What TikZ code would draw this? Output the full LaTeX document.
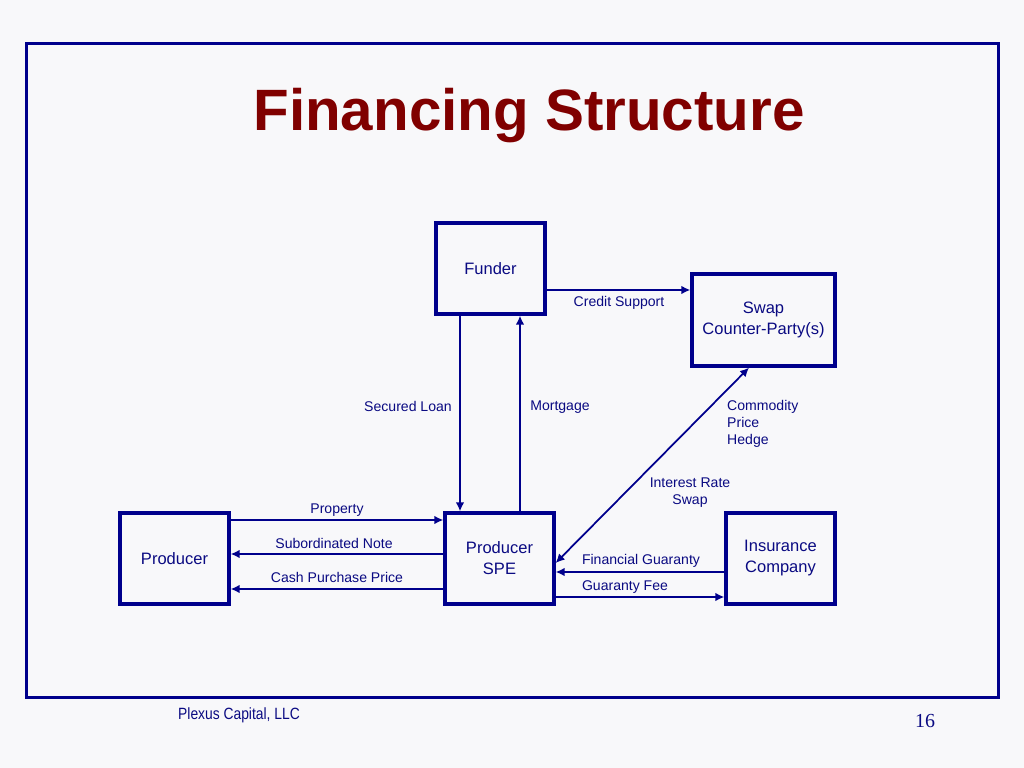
\documentclass[tikz,border=0pt]{standalone}
\usepackage{fontspec}
\setmainfont{Liberation Sans}
\newfontfamily\pagenumfont{Liberation Serif}
\newfontfamily\footfont[FakeStretch=0.85]{Liberation Sans}
\usetikzlibrary{arrows.meta}

\definecolor{linkblue}{RGB}{0,0,140}
\definecolor{textblue}{RGB}{10,10,130}
\definecolor{titlered}{RGB}{128,0,0}
\definecolor{slidebg}{RGB}{248,248,250}

\tikzset{
    party/.style={draw=linkblue, line width=2.8pt, minimum width=3.27cm, minimum height=2.73cm,
        align=center, inner sep=0pt, text=textblue, font=\fontsize{14.1}{17.9}\selectfont},
    flow/.style={draw=linkblue, line width=1.5pt, -{Latex[length=0.27cm,width=0.26cm]}},
    twoway/.style={flow, {Latex[length=0.27cm,width=0.26cm]}-{Latex[length=0.27cm,width=0.26cm]}},
    flowlabel/.style={inner sep=0pt, text=textblue, font=\fontsize{12}{14.5}\selectfont},
}

\begin{document}
\begin{tikzpicture}[x=0.03cm, y=-0.03cm]

        \useasboundingbox (0,0) rectangle (1024,768);
        \path[fill=slidebg] (0,0) rectangle (1024,768);

        \coordinate (c_funder) at (490.5,268.5);
        \coordinate (c_swap) at (763.5,320);
        \coordinate (c_prod) at (174.5,558.5);
        \coordinate (c_spe) at (499.5,558.5);
        \coordinate (c_ins) at (780.5,558.5);

        \path[draw=linkblue, line width=2.5pt] (26.5,43.5) rectangle (998.5,697.5);

        \node[anchor=base, text=titlered, font=\fontsize{49.8}{55}\selectfont\bfseries] (title) at (529,130.5) {Financing Structure};

        \node[party] (funder) at (c_funder) {Funder};
        \node[party, minimum width=4.29cm, minimum height=2.76cm] (swap) at (c_swap) {Swap\\Counter-Party(s)};
        \node[party] (prod) at (c_prod) {Producer};
        \node[party] (spe) at (c_spe) {Producer\\SPE};
        \node[party] (ins) at (c_ins) {Insurance\\Company};

        % funder and swap
        \path[flow] (funder.east |- 0,290) -- (swap.west |- 0,290);
        \path[flow] (funder.south -| 460,0) -- (spe.north -| 460,0);
        \path[flow] (spe.north -| 520,0) -- (funder.south -| 520,0);
        \path[twoway] (spe.east |- 0,563) -- (swap.south -| 749,0);

        % producer side
        \path[flow] (prod.east |- 0,520) -- (spe.west |- 0,520);
        \path[flow] (spe.west |- 0,554) -- (prod.east |- 0,554);
        \path[flow] (spe.west |- 0,589) -- (prod.east |- 0,589);

        % insurance side
        \path[flow] (ins.west |- 0,572) -- (spe.east |- 0,572);
        \path[flow] (spe.east |- 0,597) -- (ins.west |- 0,597);

        \node[flowlabel] (l_credit) at (619,303) {Credit Support};
        \node[flowlabel] (l_loan) at (408,406) {Secured Loan};
        \node[flowlabel] (l_mortgage) at (560,407) {Mortgage};
        \node[flowlabel, anchor=west, align=left] (l_hedge) at (727,424) {Commodity\\Price\\Hedge};
        \node[flowlabel, align=center] (l_swap) at (690,493) {Interest Rate\\Swap};
        \node[flowlabel] (l_property) at (337,510) {Property};
        \node[flowlabel] (l_subnote) at (334,543) {Subordinated Note};
        \node[flowlabel] (l_cash) at (337,577) {Cash Purchase Price};
        \node[flowlabel] (l_guaranty) at (641,561) {Financial Guaranty};
        \node[flowlabel] (l_fee) at (625,587) {Guaranty Fee};

        \node[anchor=base west, inner sep=0pt, text=textblue, font=\footfont\fontsize{13.9}{16}\selectfont] (footer) at (178,719) {Plexus Capital, LLC};
        \node[anchor=base west, inner sep=0pt, text=textblue, font=\pagenumfont\fontsize{17}{20}\selectfont] (pagenum) at (915,727) {16};

    \end{tikzpicture}
\end{document}
